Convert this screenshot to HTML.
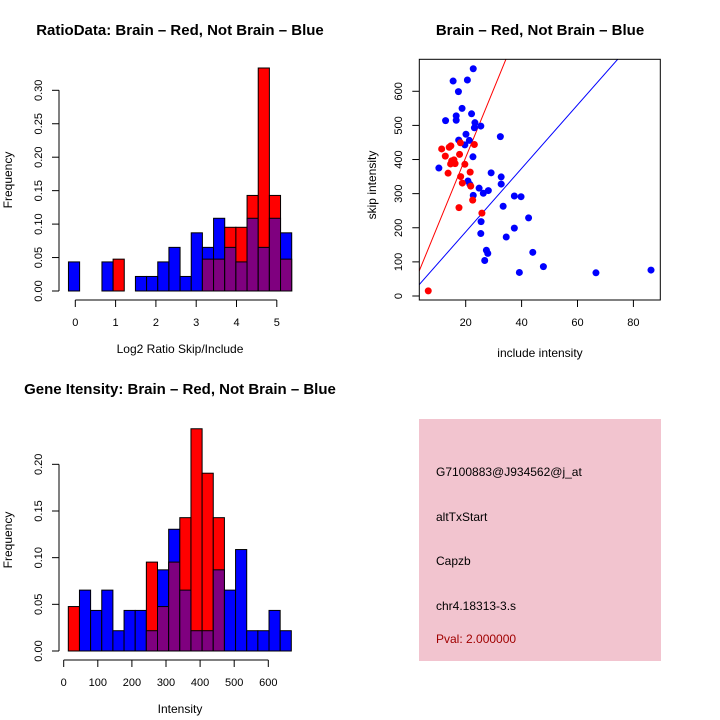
<!DOCTYPE html>
<html><head><meta charset="utf-8"><style>
html,body{margin:0;padding:0;background:#fff;}
svg{display:block;font-family:"Liberation Sans",sans-serif;}
</style></head><body>
<svg id="c" width="720" height="720" viewBox="0 0 720 720">
<rect x="0" y="0" width="720" height="720" fill="#fff"/>
</svg>
<script>
// ---- data ----
const ratioBinStart = -0.17, ratioBinWidth = 0.277;
const ratioBlueCounts = [2,0,0,2,0,0,1,1,2,3,1,4,3,5,3,2,5,3,5,4];
const ratioRedCounts  = [0,0,0,0,1,0,0,0,0,0,0,0,1,1,2,2,3,7,3,1];
const ratioXTicks = [0,1,2,3,4,5];
const ratioYTicks = ["0.00","0.05","0.10","0.15","0.20","0.25","0.30"];
const intBinStart = 13.5, intBinWidth = 32.7;
const intBlueCounts = [0,3,2,3,1,2,2,1,4,6,3,1,1,4,3,5,1,1,2,1];
const intRedCounts  = [1,0,0,0,0,0,0,2,1,2,3,5,4,3,0,0,0,0,0,0];
const intXTicks = [0,100,200,300,400,500,600];
const intYTicks = ["0.00","0.05","0.10","0.15","0.20"];
const blueN = 46, redN = 21;
const blueInclude = [22.7,15.5,20.6,17.4,18.7,22.1,12.8,16.6,16.6,23.3,25.4,23.1,20.1,17.5,21.3,19.7,32.4,22.6,10.4,29.1,32.7,32.7,20.8,21.5,24.8,28.1,26.3,22.7,37.4,39.8,33.4,42.5,25.5,37.4,25.4,34.5,27.4,27.9,26.8,44.0,47.8,39.2,66.6,86.3];
const blueSkip = [666,630,633,599,550,534,514,528,515,508,498,493,474,457,456,443,467,408,375,361,349,328,337,327,316,309,301,295,293,291,263,229,218,199,183,173,134,125,104,128,86,69,68,76];
const redInclude = [6.6,11.4,12.7,14.1,14.7,17.8,18.1,23.1,15.0,15.8,16.2,14.6,19.7,13.7,21.6,18.2,18.8,21.8,17.6,22.5,25.8];
const redSkip = [15,431,410,436,440,415,449,444,396,399,388,387,386,360,363,350,331,322,259,281,243];
const scatXTicks = [20,40,60,80];
const scatYTicks = [0,100,200,300,400,500,600];
const redFit = [20, 6];   // slope, intercept
const blueFit = [9.3, 2];
const infoLines = ["G7100883@J934562@j_at","altTxStart","Capzb","chr4.18313-3.s"];
const pvalText = "Pval: 2.000000";

const NS = "http://www.w3.org/2000/svg";
const svg = document.getElementById("c");
function mk(tag, attrs, parent){const e=document.createElementNS(NS,tag);for(const k in attrs)e.setAttribute(k,attrs[k]);(parent||svg).appendChild(e);return e;}
function txt(s, attrs, parent){const e=mk("text",attrs,parent);e.textContent=s;return e;}

function histogram(name, top, bStart, bW, xs, ys, blue, red, xTicks, yTicks, yStep, xLabel){
  const g = mk("g",{});
  
  
  for(let i=0;i<blue.length;i++){
    const x0=xs(bStart+i*bW), x1=xs(bStart+(i+1)*bW);
    const b=blue[i]/blueN, r=red[i]/redN;
    const tall = b>=r ? ['#0000ff',b] : ['#ff0000',r];
    const low = b>=r ? ['#ff0000',r] : ['#0000ff',b];
    if(tall[1]>0){const e=mk("rect",{x:x0,y:ys(tall[1]),width:x1-x0,height:ys(0)-ys(tall[1]),fill:tall[0],stroke:"#000","stroke-width":1},g);
      
      }
    if(low[1]>0){const e=mk("rect",{x:x0,y:ys(low[1]),width:x1-x0,height:ys(0)-ys(low[1]),fill:(b>0&&r>0)?'#7f007f':low[0],stroke:"#000","stroke-width":1},g);
      
      }
  }
  const by = ys(0)+9;
  mk("line",{x1:xs(xTicks[0]),x2:xs(xTicks[xTicks.length-1]),y1:by,y2:by,stroke:"#000"},g);
  xTicks.forEach(t=>{mk("line",{x1:xs(t),x2:xs(t),y1:by,y2:by+7,stroke:"#000"},g);
    const l=txt(String(t),{x:xs(t),y:by+26,"text-anchor":"middle","font-size":11},g);
    
    });
  const ax=59;
  mk("line",{x1:ax,x2:ax,y1:ys(0),y2:ys((yTicks.length-1)*yStep),stroke:"#000"},g);
  yTicks.forEach((t,i)=>{const y=ys(i*yStep);mk("line",{x1:ax-7,x2:ax,y1:y,y2:y,stroke:"#000"},g);
    const l=txt(t,{x:42,y:y,"text-anchor":"middle","font-size":11,transform:`rotate(-90 42 ${y})`},g);
    
    });
  const xl=txt(xLabel,{x:180,y:by+53,"text-anchor":"middle","font-size":12},g);
  
  
  const yc = top+120;
  const yl=txt("Frequency",{x:12,y:yc,"text-anchor":"middle","font-size":12,transform:`rotate(-90 12 ${yc})`},g);
  
  
  return g;
}

// top-left ratio histogram
const rx = v=>75.3+v*40.3, ry = v=>291-v*669;
histogram('ratio-histogram',60,ratioBinStart,ratioBinWidth,rx,ry,ratioBlueCounts,ratioRedCounts,ratioXTicks,ratioYTicks,0.05,"Log2 Ratio Skip/Include");
const t1=txt("RatioData: Brain \u2013 Red, Not Brain \u2013 Blue",{x:180,y:35,"text-anchor":"middle","font-size":15,"font-weight":"bold"});



// bottom-left intensity histogram
const ix = v=>63.7+v*0.341, iy = v=>651-v*933.4;
histogram('intensity-histogram',420,intBinStart,intBinWidth,ix,iy,intBlueCounts,intRedCounts,intXTicks,intYTicks,0.05,"Intensity");
const t2=txt("Gene Itensity: Brain \u2013 Red, Not Brain \u2013 Blue",{x:180,y:394,"text-anchor":"middle","font-size":15,"font-weight":"bold"});



// scatter
const sx = v=>409.8+v*2.795, sy = v=>296-v*0.3412;
const L=419.3,R=660.3,T=59.3,B=300;
const sg=mk("g",{});


const defs=mk("defs",{},sg);
const cp=mk("clipPath",{id:"sc"},defs);mk("rect",{x:L,y:T,width:R-L,height:B-T},cp);
const inner=mk("g",{"clip-path":"url(#sc)"},sg);
[[redFit,'#ff0000','red-fit-line'],[blueFit,'#0000ff','blue-fit-line']].forEach(([f,c,n])=>{
  const a=0,b=100;const l=mk("line",{x1:sx(a),y1:sy(f[1]+f[0]*a),x2:sx(b),y2:sy(f[1]+f[0]*b),stroke:c,"stroke-width":1},inner);
  
  });
blueInclude.forEach((v,i)=>{const p=mk("circle",{cx:sx(v),cy:sy(blueSkip[i]),r:3.5,fill:"#0000ff"},inner);
  
  });
redInclude.forEach((v,i)=>{const p=mk("circle",{cx:sx(v),cy:sy(redSkip[i]),r:3.5,fill:"#ff0000"},inner);
  
  });
mk("rect",{x:L,y:T,width:R-L,height:B-T,fill:"none",stroke:"#000"},sg);
scatXTicks.forEach(t=>{mk("line",{x1:sx(t),x2:sx(t),y1:B,y2:B+7,stroke:"#000"},sg);
  const l=txt(String(t),{x:sx(t),y:B+26,"text-anchor":"middle","font-size":11},sg);
  
  });
scatYTicks.forEach(t=>{const y=sy(t);mk("line",{x1:L-7,x2:L,y1:y,y2:y,stroke:"#000"},sg);
  const l=txt(String(t),{x:402,y:y,"text-anchor":"middle","font-size":11,transform:`rotate(-90 402 ${y})`},sg);
  
  });
const sxl=txt("include intensity",{x:540,y:357,"text-anchor":"middle","font-size":12},sg);


const syl=txt("skip intensity",{x:376,y:185,"text-anchor":"middle","font-size":12,transform:"rotate(-90 376 185)"},sg);


const t3=txt("Brain \u2013 Red, Not Brain \u2013 Blue",{x:540,y:35,"text-anchor":"middle","font-size":15,"font-weight":"bold"});



// info box
const ib=mk("g",{});


mk("rect",{x:419,y:419,width:242,height:242,fill:"#f2c4cf"},ib);
const ys2=[476,521,565,610];
infoLines.forEach((s,i)=>{const e=txt(s,{x:436,y:ys2[i],"font-size":12,fill:"#000"},ib);
  
  });
const pv=txt(pvalText,{x:436,y:643,"font-size":12,fill:"#a00000"},ib);


</script>
</body></html>
